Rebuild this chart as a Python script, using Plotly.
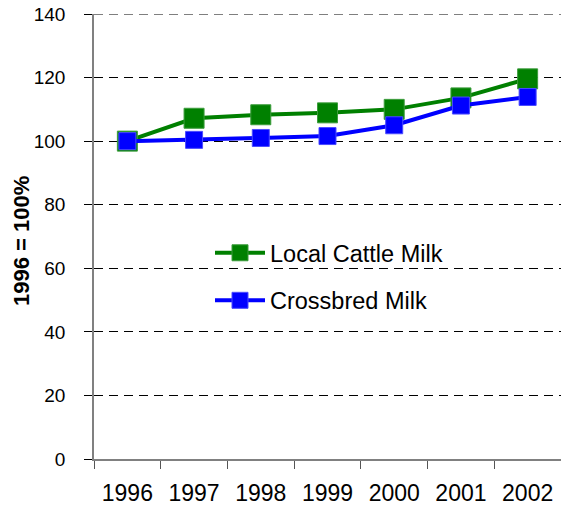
import plotly.graph_objects as go

years = ["1996", "1997", "1998", "1999", "2000", "2001", "2002"]
local_cattle = [100, 107.2, 108.3, 108.9, 110.0, 113.6, 119.6]
crossbred = [100, 100.4, 101.0, 101.6, 105.0, 111.2, 113.9]
y_ticks = [0, 20, 40, 60, 80, 100, 120, 140]

FONT = "Liberation Sans, Arial, sans-serif"
GRID_DASH = "9px,6px"

# plot area target: x 94..561, y 14..459 (window coords); page body margin removed below
PL, PT, PW, PH = 94, 14, 467, 445


def px(x):
    return (x - PL) / PW


def py(y):
    return (PT + PH - y) / PH


fig = go.Figure()
fig.add_trace(go.Scatter(
    x=years, y=local_cattle, name="Local Cattle Milk", mode="lines+markers",
    line=dict(color="#008000", width=4),
    marker=dict(symbol="square", size=20, color="#008000", line=dict(color="#3c9c3c", width=1)),
    legendgroup="a",
))
fig.add_trace(go.Scatter(
    x=years, y=crossbred, name="Crossbred Milk", mode="lines+markers",
    line=dict(color="#0000ff", width=4),
    marker=dict(symbol="square", size=17, color="#0000ff", line=dict(color="#4a4aff", width=1)),
    legendgroup="b",
))

# white legend backdrop (covers gridlines)
fig.add_shape(type="rect", xref="paper", yref="paper",
              x0=px(148), x1=px(505), y0=py(322), y1=py(228),
              fillcolor="white", line=dict(width=0), layer="between")
# top gridline at the upper edge
fig.add_shape(type="line", xref="paper", yref="y", x0=0, x1=1, y0=y_ticks[-1], y1=y_ticks[-1],
              line=dict(color="black", width=1, dash=GRID_DASH), layer="between")

fig.add_annotation(text="<b>1996 = 100%</b>", xref="paper", yref="paper",
                   x=px(21), y=py(241), textangle=-90,
                   xanchor="center", yanchor="middle",
                   showarrow=False, font=dict(size=22, color="black", family=FONT))

fig.update_layout(
    width=561, height=511,
    margin=dict(l=PL, r=561 - (PL + PW), t=PT, b=511 - PT - PH),
    paper_bgcolor="white", plot_bgcolor="white",
    font=dict(family=FONT, color="black", size=19),
    showlegend=True,
    legend=dict(x=px(210), y=py(231), xanchor="left", yanchor="top",
                bgcolor="rgba(0,0,0,0)", font=dict(size=23.5), tracegroupgap=14,
                itemsizing="trace", itemwidth=50),
    xaxis=dict(type="category", range=[-0.5, 6.5], showgrid=False, automargin=False,
               showline=True, linecolor="#808080", linewidth=1.5,
               ticks="outside", tickson="boundaries", ticklen=8, tickcolor="#555555",
               tickfont=dict(size=23), ticklabelstandoff=13, ticklabeloverflow="allow"),
    yaxis=dict(range=[0, 140], tickvals=y_ticks, showgrid=True, automargin=False,
               gridcolor="black", gridwidth=1, griddash=GRID_DASH,
               showline=True, linecolor="#808080", linewidth=1.5,
               ticks="outside", ticklen=8, tickcolor="black",
               zeroline=False, tickfont=dict(size=19), ticklabelstandoff=15,
               ticklabeloverflow="allow"),
)

fig.write_html("out.html", config={"displayModeBar": False},
               post_script="document.body.style.margin='0';document.body.style.overflow='hidden';")
